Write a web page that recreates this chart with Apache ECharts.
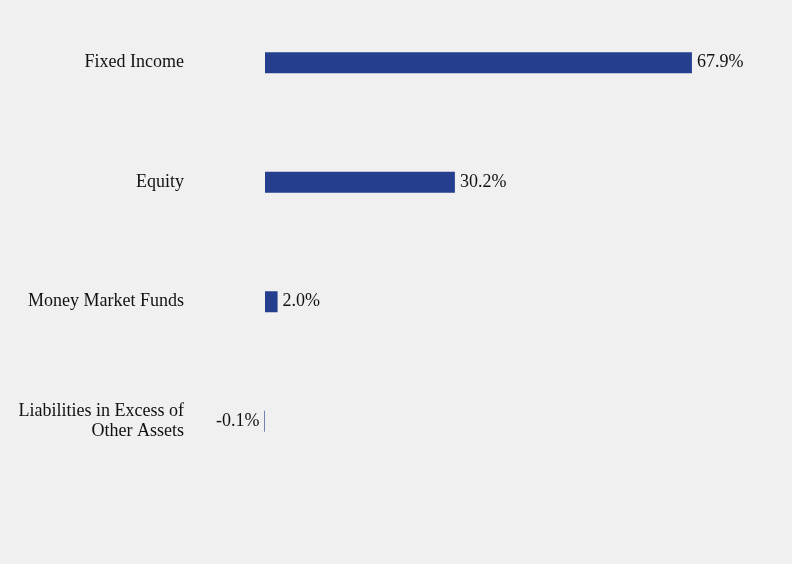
<!DOCTYPE html>
<html><head><meta charset="utf-8">
<script src="https://cdn.jsdelivr.net/npm/echarts@6/dist/echarts.min.js"></script>
<style>html,body{margin:0;background:#f0f0f0}#c{width:792px;height:564px}</style>
</head><body><div id="c"></div>
<script>
const categories = ["Fixed Income","Equity","Money Market Funds","Liabilities in Excess of\nOther Assets"];
const values = [67.9, 30.2, 2.0, -0.1];
const chart = echarts.init(document.getElementById('c'));
const font = {fontFamily:'Liberation Serif', fontSize:18, color:'#111'};
chart.setOption({
  backgroundColor:'#f0f0f0',
  animation:false,
  grid:{left:264,right:24,top:3,bottom:83},
  xAxis:{type:'value',min:-0.16,max:80,show:false},
  yAxis:{type:'category',inverse:true,data:categories,
    axisLine:{show:false},axisTick:{show:false},
    axisLabel:Object.assign({margin:80,lineHeight:20,align:'right'},font)},
  series:[{type:'bar',barWidth:21,data:values,
    itemStyle:{color:'#253f8e'},
    label:{show:true,position:'right',distance:5,
      formatter:p=>p.value.toFixed(1)+'%',...font,
      rich:{}},
    labelLayout:null}]
});
// negative value label on left
const opt = chart.getOption();
opt.series[0].data = values.map(v => v < 0 ? {value:v,label:{position:'left'}} : v);
chart.setOption(opt);
</script></body></html>
